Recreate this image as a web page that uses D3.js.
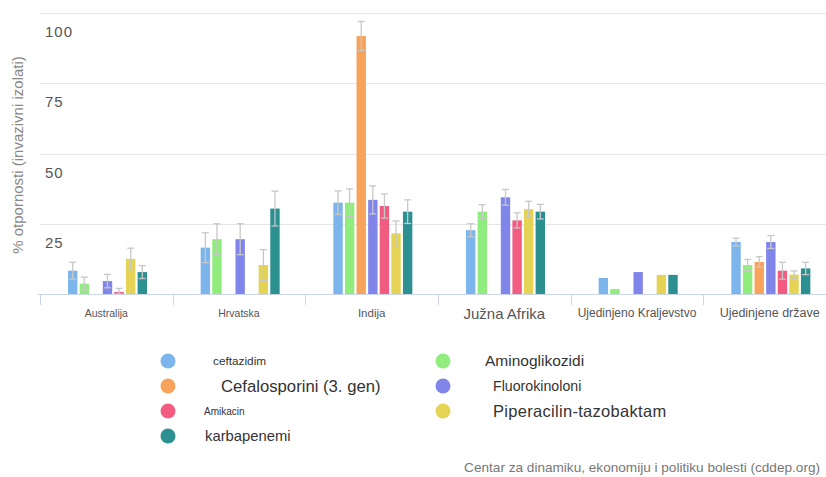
<!DOCTYPE html>
<html>
<head>
<meta charset="utf-8">
<script src="https://cdn.jsdelivr.net/npm/d3@7"></script>
<style>
  html, body { margin: 0; padding: 0; background: #fff; }
  svg { display: block; font-family: "Liberation Sans", Arial, sans-serif; }
</style>
</head>
<body>
<svg id="chart" width="826" height="477"></svg>
<script>
const categories = ["Australija", "Hrvatska", "Indija", "Južna Afrika", "Ujedinjeno Kraljevstvo", "Ujedinjene države"];
const seriesNames = ["ceftazidim", "Aminoglikozidi", "Cefalosporini (3. gen)", "Fluorokinoloni", "Amikacin", "Piperacilin-tazobaktam", "karbapenemi"];
const seriesColors = ["#7cb5ec", "#90ed7d", "#f7a35c", "#8085e9", "#f15c80", "#e4d354", "#2b908f"];
const yTicks = [25, 50, 75, 100];

const ceftazidim     = [8.3, 16.5, 32.5, 22.7, 5.7, 18.5];
const aminoglikozidi = [3.7, 19.5, 32.5, 29.3, 1.8, 10.3];
const cefalosporini  = [null, null, 91.8, null, null, 11.4];
const fluorokinoloni = [4.6, 19.5, 33.5, 34.4, 7.8, 18.5];
const amikacin       = [0.7, null, 31.3, 26.2, null, 8.3];
const piperacilin    = [12.5, 10.3, 21.6, 30.2, 6.8, 6.9];
const karbapenemi    = [7.8, 30.4, 29.3, 29.3, 6.8, 9.1];

const ceftazidimErr     = [3.0, 5.3, 4.2, 2.3, null, 1.4];
const aminoglikozidiErr = [2.3, 5.5, 4.9, 2.5, null, 2.0];
const cefalosporiniErr  = [null, null, 5.2, null, null, 1.9];
const fluorokinoloniErr = [2.4, 5.5, 5.0, 2.8, null, 2.3];
const amikacinErr       = [1.3, null, 4.3, 2.7, null, 3.0];
const piperacilinErr    = [3.8, 5.5, 4.4, 2.8, null, 1.3];
const karbapenemiErr    = [2.3, 6.2, 4.2, 2.6, null, 2.2];

const seriesValues = [ceftazidim, aminoglikozidi, cefalosporini, fluorokinoloni, amikacin, piperacilin, karbapenemi];
const seriesErrors = [ceftazidimErr, aminoglikozidiErr, cefalosporiniErr, fluorokinoloniErr, amikacinErr, piperacilinErr, karbapenemiErr];

const yTitle = "% otpornosti (invazivni izolati)";
const credit = "Centar za dinamiku, ekonomiju i politiku bolesti (cddep.org)";

// label font sizes (style)
const catFont = {"Australija": 10.5, "Hrvatska": 10.5, "Indija": 11.5, "Južna Afrika": 15, "Ujedinjeno Kraljevstvo": 12, "Ujedinjene države": 12.5};
const legendFont = {"ceftazidim": 11.8, "Aminoglikozidi": 15.5, "Cefalosporini (3. gen)": 16.7, "Fluorokinoloni": 14.2, "Amikacin": 10, "Piperacilin-tazobaktam": 16.5, "karbapenemi": 14.8};
const legendSpacing = {"Piperacilin-tazobaktam": 0.3};
const legendPos = [
  {cx: 168, cy: 361, tx: 213}, {cx: 443, cy: 361, tx: 485},
  {cx: 168, cy: 386, tx: 221}, {cx: 443, cy: 386, tx: 493},
  {cx: 168, cy: 411, tx: 204}, {cx: 443, cy: 411, tx: 493},
  {cx: 168, cy: 436, tx: 205}
];

const svg = d3.select("#chart");
const baseY = 294;
const x0 = d3.scaleBand().domain(categories).range([40, 836]).padding(0);
const x1 = d3.scaleBand().domain(seriesNames).range([28, 107]).paddingInner(0.19);
const y = d3.scaleLinear().domain([0, 100]).range([baseY, 13]);

// gridlines
svg.append("g").selectAll("line").data(yTicks).join("line")
  .attr("x1", 40).attr("x2", 826)
  .attr("y1", d => Math.round(y(d)) + 0.5).attr("y2", d => Math.round(y(d)) + 0.5)
  .attr("stroke", "#e6e6e6").attr("stroke-width", 1);

// y labels (below gridline)
svg.append("g").selectAll("text").data(yTicks).join("text")
  .attr("x", 45).attr("y", d => y(d) + 24)
  .attr("font-size", 15).attr("fill", "#555").attr("letter-spacing", 1)
  .text(d => d);

// y title
svg.append("text")
  .attr("transform", `translate(23, 155) rotate(-90)`)
  .attr("text-anchor", "middle")
  .attr("font-size", 15).attr("fill", "#888")
  .text(yTitle);

// bars
const flat = [];
categories.forEach((c, ci) => {
  seriesNames.forEach((s, si) => {
    const v = seriesValues[si][ci];
    if (v !== null) flat.push({c, s, si, v, e: seriesErrors[si][ci]});
  });
});

svg.append("g").selectAll("rect").data(flat).join("rect")
  .attr("x", d => x0(d.c) + x1(d.s))
  .attr("y", d => y(d.v))
  .attr("width", x1.bandwidth())
  .attr("height", d => baseY - y(d.v))
  .attr("fill", d => seriesColors[d.si]);

// error bars
const eg = svg.append("g").attr("stroke", "#c8c8c8").attr("stroke-width", 1.3).attr("fill", "none");
flat.filter(d => d.e !== null).forEach(d => {
  const cx = x0(d.c) + x1(d.s) + x1.bandwidth() / 2;
  const hi = y(d.v + d.e), lo = y(Math.max(0, d.v - d.e));
  const hw = 3.5;
  eg.append("line").attr("x1", cx).attr("x2", cx).attr("y1", hi).attr("y2", lo);
  eg.append("line").attr("x1", cx - hw).attr("x2", cx + hw).attr("y1", hi).attr("y2", hi);
  eg.append("line").attr("x1", cx - hw).attr("x2", cx + hw).attr("y1", lo).attr("y2", lo);
});

// baseline axis
svg.append("line").attr("x1", 38).attr("x2", 826).attr("y1", baseY + 0.5).attr("y2", baseY + 0.5)
  .attr("stroke", "#ccd6eb");
svg.append("g").selectAll("line").data(categories).join("line")
  .attr("x1", d => Math.round(x0(d)) + 0.5).attr("x2", d => Math.round(x0(d)) + 0.5)
  .attr("y1", baseY).attr("y2", baseY + 11)
  .attr("stroke", "#ccd6eb");

// category labels
svg.append("g").selectAll("text").data(categories).join("text")
  .attr("x", d => x0(d) + x0.bandwidth() / 2)
  .attr("y", d => catFont[d] > 14 ? 319 : 317)
  .attr("text-anchor", "middle")
  .attr("font-size", d => catFont[d]).attr("fill", "#555")
  .text(d => d);

// legend
const lg = svg.append("g").selectAll("g").data(seriesNames).join("g");
lg.append("circle")
  .attr("cx", (d, i) => legendPos[i].cx).attr("cy", (d, i) => legendPos[i].cy)
  .attr("r", 7.5).attr("fill", (d, i) => seriesColors[i]);
lg.append("text")
  .attr("x", (d, i) => legendPos[i].tx).attr("y", (d, i) => legendPos[i].cy)
  .attr("dy", "0.35em")
  .attr("font-size", d => legendFont[d]).attr("fill", "#333")
  .attr("letter-spacing", d => legendSpacing[d] || 0)
  .text(d => d);

// credit
svg.append("text").attr("x", 820).attr("y", 472).attr("text-anchor", "end")
  .attr("font-size", 13.6).attr("fill", "#777").text(credit);
</script>
</body>
</html>
